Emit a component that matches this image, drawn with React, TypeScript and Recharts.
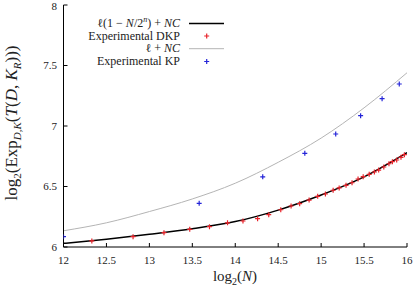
import React from "react";
import { ComposedChart, Line, Scatter, XAxis, YAxis, Legend } from "recharts";

const xTicks = [12, 12.5, 13, 13.5, 14, 14.5, 15, 15.5, 16];
const yTicks = [6, 6.5, 7, 7.5, 8];

// curves at every x tick
const curveX = [12, 12.5, 13, 13.5, 14, 14.5, 15, 15.5, 16];
const boundDKP = [6.03, 6.065, 6.105, 6.15, 6.21, 6.305, 6.43, 6.58, 6.78];
const boundKP = [6.134, 6.2, 6.293, 6.397, 6.527, 6.7, 6.9, 7.15, 7.44];

const dkpX = [
  12.33, 12.81, 13.17, 13.47, 13.7, 13.91, 14.09, 14.26, 14.39, 14.53, 14.65,
  14.75, 14.86, 14.96, 15.05, 15.14, 15.21, 15.29, 15.36, 15.43, 15.49, 15.56,
  15.62, 15.67, 15.73, 15.79, 15.83, 15.88, 15.93, 15.97,
];
const dkpY = [
  6.05, 6.085, 6.118, 6.146, 6.168, 6.2, 6.215, 6.234, 6.267, 6.308, 6.339,
  6.358, 6.388, 6.419, 6.438, 6.469, 6.488, 6.51, 6.531, 6.562, 6.581, 6.601,
  6.62, 6.636, 6.661, 6.688, 6.705, 6.719, 6.741, 6.763,
];

const kpX = [12, 13.58, 14.32, 14.81, 15.17, 15.46, 15.71, 15.91];
const kpY = [6.085, 6.361, 6.58, 6.774, 6.934, 7.085, 7.226, 7.347];

const RED = "#e8232a";
const BLUE = "#2424d8";
const GRAY = "#b4b4b4";
const FONT = "'Liberation Serif', 'DejaVu Serif', serif";

const curveData = curveX.map((x, i) => ({ x, dkp: boundDKP[i], kp: boundKP[i] }));
const dkpData = dkpX.map((x, i) => ({ x, y: dkpY[i] }));
const kpData = kpX.map((x, i) => ({ x, y: kpY[i] }));

const plus = (color: string) => (props: any) => {
  const { cx, cy } = props;
  return (
    <path
      d={`M${cx - 2.5},${cy}h5M${cx},${cy - 2.5}v5`}
      stroke={color}
      strokeWidth={1.2}
      fill="none"
    />
  );
};

const tickStyle = { fontFamily: FONT, fontSize: 11, fill: "#222" };

function LegendBox() {
  const textX = 180;
  const rows = [27, 39.5, 52.2, 65];
  return (
    <svg width={416} height={80} style={{ display: "block" }}>
      <g fontFamily={FONT} fontSize={12} fill="#222" textAnchor="end">
        <text x={textX} y={rows[0]}>
          ℓ(1 − <tspan fontStyle="italic">N</tspan>/2
          <tspan fontStyle="italic" fontSize={8} dy={-5}>n</tspan>
          <tspan dy={5}>) + </tspan>
          <tspan fontStyle="italic">NC</tspan>
        </text>
        <text x={textX} y={rows[1]}>Experimental DKP</text>
        <text x={textX} y={rows[2]}>
          ℓ + <tspan fontStyle="italic">NC</tspan>
        </text>
        <text x={textX} y={rows[3]}>Experimental KP</text>
      </g>
      <line x1={189} x2={224} y1={rows[0] - 3.5} y2={rows[0] - 3.5} stroke="#000" strokeWidth={1.5} />
      <path d={`M${204.2},${rows[1] - 3.5}h5M${206.7},${rows[1] - 6}v5`} stroke={RED} strokeWidth={1.2} />
      <line x1={189} x2={224} y1={rows[2] - 3.5} y2={rows[2] - 3.5} stroke={GRAY} strokeWidth={1} />
      <path d={`M${204.2},${rows[3] - 3.5}h5M${206.7},${rows[3] - 6}v5`} stroke={BLUE} strokeWidth={1.2} />
    </svg>
  );
}

function YLabel() {
  return (
    <text
      transform="translate(17,123) rotate(-90)"
      textAnchor="middle"
      fontFamily={FONT}
      fontSize={17}
      fill="#222"
    >
      log<tspan fontSize={11} dy={4}>2</tspan>
      <tspan dy={-4}>(Exp</tspan>
      <tspan fontSize={11} dy={4} fontStyle="italic">D,K</tspan>
      <tspan dy={-4}>(</tspan>
      <tspan fontStyle="italic">T</tspan>(<tspan fontStyle="italic">D</tspan>,{" "}
      <tspan fontStyle="italic">K</tspan>
      <tspan fontSize={11} dy={4} fontStyle="italic">R</tspan>
      <tspan dy={-4}>)))</tspan>
    </text>
  );
}

function XLabel() {
  return (
    <text x={235} y={281} textAnchor="middle" fontFamily={FONT} fontSize={15} fill="#222">
      log<tspan fontSize={10} dy={4}>2</tspan>
      <tspan dy={-4}>(</tspan>
      <tspan fontStyle="italic">N</tspan>)
    </text>
  );
}

export default function App() {
  return (
    <div style={{ position: "absolute", left: 0, top: 0, width: 416, height: 288, background: "#fff" }}>
      <ComposedChart width={416} height={288} margin={{ top: 5, right: 9, left: 0, bottom: 0 }}>
        <XAxis
          xAxisId={0}
          dataKey="x"
          type="number"
          domain={[12, 16]}
          ticks={xTicks}
          allowDataOverflow
          height={41}
          stroke="#000"
          tickSize={-4}
          tickMargin={13}
          tick={tickStyle}
          label={<XLabel />}
        />
        <XAxis
          xAxisId="top"
          orientation="top"
          type="number"
          domain={[12, 16]}
          ticks={xTicks}
          allowDataOverflow
          height={0}
          stroke="#000"
          tickSize={-4}
          tick={false}
        />
        <YAxis
          yAxisId={0}
          type="number"
          domain={[6, 8]}
          ticks={yTicks}
          allowDataOverflow
          width={63.5}
          stroke="#000"
          tickSize={-4}
          tickMargin={10.5}
          tick={tickStyle}
          label={<YLabel />}
        />
        <YAxis
          yAxisId="right"
          orientation="right"
          type="number"
          domain={[6, 8]}
          ticks={yTicks}
          allowDataOverflow
          width={0}
          stroke="#000"
          tickSize={-4}
          tick={false}
        />
        <Legend
          verticalAlign="middle"
          align="center"
          layout="horizontal"
          wrapperStyle={{ left: 0, top: 0, width: 416, height: 80 }}
          content={() => <LegendBox />}
        />
        <Line
          data={curveData}
          dataKey="kp"
          type="monotone"
          stroke={GRAY}
          strokeWidth={1}
          dot={false}
          isAnimationActive={false}
        />
        <Line
          data={curveData}
          dataKey="dkp"
          type="monotone"
          stroke="#000"
          strokeWidth={1.5}
          dot={false}
          isAnimationActive={false}
        />
        <Scatter data={dkpData} dataKey="y" shape={plus(RED)} isAnimationActive={false} />
        <Scatter data={kpData} dataKey="y" shape={plus(BLUE)} isAnimationActive={false} />
      </ComposedChart>
    </div>
  );
}
